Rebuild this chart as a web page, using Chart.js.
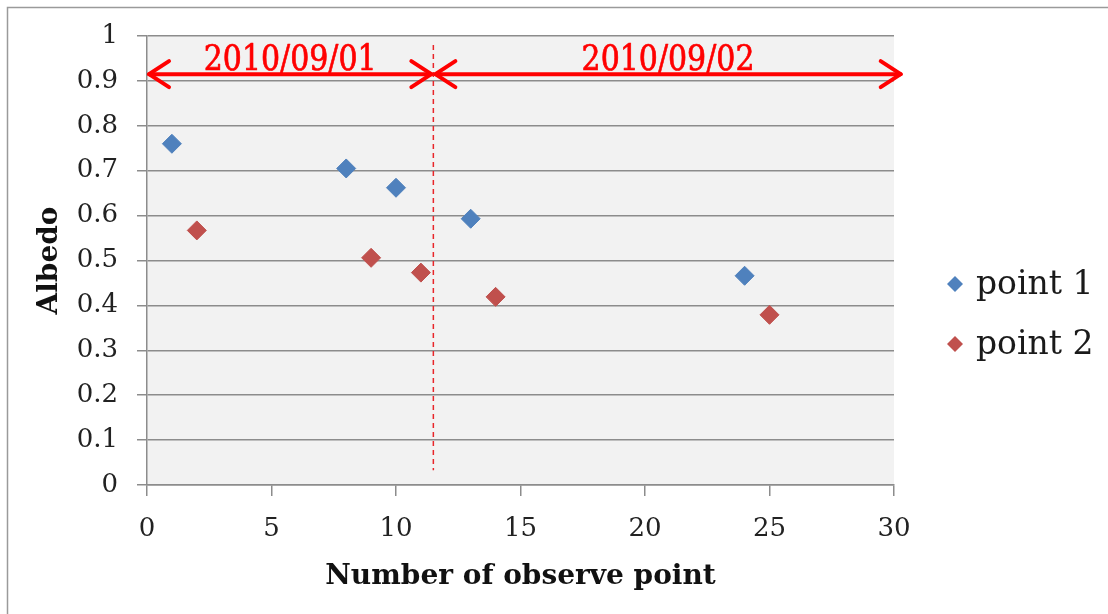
<!DOCTYPE html>
<html>
<head>
<meta charset="utf-8">
<title>Albedo</title>
<script src="https://cdn.jsdelivr.net/npm/chart.js@4/dist/chart.umd.min.js"></script>
<style>
  body { margin: 0; background: #fff; }
  canvas { display: block; }
</style>
</head>
<body>
<canvas id="albedoChart" width="1108" height="614"></canvas>
<script>
// observation numbers and albedo values for each point
const point1X = [1, 8, 10, 13, 24];
const point1Y = [0.76, 0.705, 0.662, 0.593, 0.466];
const point2X = [2, 9, 11, 14, 25];
const point2Y = [0.567, 0.506, 0.473, 0.419, 0.379];
const seriesNames = ['point 1', 'point 2'];

// day split and the date spans above the points
const dayDivider = 11.5;
const daySpans = [
    { label: '2010/09/01', from: 0, to: 11.5 },
    { label: '2010/09/02', from: 11.5, to: 30.35 }
];
const spanArrowY = 0.915;

const serif = '"DejaVu Serif", "Liberation Serif", serif';
const gridGray = '#8c8c8c';

function toPoints(xs, ys) {
    return xs.map((x, i) => ({ x: x, y: ys[i] }));
}

// plot background + outer frame
const backgroundPlugin = {
    id: 'plotBackground',
    beforeDraw(chart) {
        const ctx = chart.ctx;
        const a = chart.chartArea;
        ctx.save();
        ctx.fillStyle = '#f2f2f2';
        ctx.fillRect(a.left, a.top, a.right - a.left, a.bottom - a.top);
        ctx.strokeStyle = '#9a9a9a';
        ctx.lineWidth = 1.5;
        ctx.beginPath();
        ctx.moveTo(7.5, chart.height);
        ctx.lineTo(7.5, 7.5);
        ctx.lineTo(chart.width, 7.5);
        ctx.stroke();
        ctx.restore();
    }
};

function drawArrowHead(ctx, x, y, dir) {
    ctx.beginPath();
    ctx.moveTo(x - dir * 20, y - 13);
    ctx.lineTo(x, y);
    ctx.lineTo(x - dir * 20, y + 13);
    ctx.stroke();
}

// dashed divider, date arrows and their labels
const dayMarkPlugin = {
    id: 'dayMarks',
    afterDatasetsDraw(chart) {
        const ctx = chart.ctx;
        const xs = chart.scales.x;
        const ys = chart.scales.y;
        ctx.save();

        ctx.strokeStyle = '#e8262a';
        ctx.lineWidth = 1.5;
        ctx.setLineDash([5, 4]);
        ctx.beginPath();
        ctx.moveTo(xs.getPixelForValue(dayDivider), ys.getPixelForValue(0.98));
        ctx.lineTo(xs.getPixelForValue(dayDivider), ys.getPixelForValue(0.033));
        ctx.stroke();
        ctx.setLineDash([]);

        const y = ys.getPixelForValue(spanArrowY);
        ctx.strokeStyle = '#ff0000';
        ctx.lineWidth = 4;
        ctx.lineCap = 'round';
        ctx.lineJoin = 'round';
        daySpans.forEach(span => {
            const x0 = xs.getPixelForValue(span.from) + 2;
            const x1 = xs.getPixelForValue(span.to) - 2;
            ctx.beginPath();
            ctx.moveTo(x0, y);
            ctx.lineTo(x1, y);
            ctx.stroke();
            drawArrowHead(ctx, x0, y, -1);
            drawArrowHead(ctx, x1, y, 1);

            // label a bit taller than the plain face
            ctx.save();
            ctx.translate((x0 + x1) / 2, y - 4);
            ctx.scale(1, 1.15);
            ctx.fillStyle = '#ff0000';
            ctx.strokeStyle = '#ff0000';
            ctx.lineWidth = 0.6;
            ctx.font = '30px ' + serif;
            ctx.textAlign = 'center';
            ctx.textBaseline = 'alphabetic';
            ctx.fillText(span.label, 0, 0);
            ctx.strokeText(span.label, 0, 0);
            ctx.restore();
        });
        ctx.restore();
    }
};

// legend on the right, diamonds + names
const sideLegendPlugin = {
    id: 'sideLegend',
    afterDraw(chart) {
        const ctx = chart.ctx;
        ctx.save();
        chart.data.datasets.forEach((ds, i) => {
            const cy = 284 + i * 60;
            ctx.fillStyle = ds.backgroundColor;
            ctx.beginPath();
            ctx.moveTo(955, cy - 8);
            ctx.lineTo(963, cy);
            ctx.lineTo(955, cy + 8);
            ctx.lineTo(947, cy);
            ctx.closePath();
            ctx.fill();
            ctx.fillStyle = '#1a1a1a';
            ctx.font = '33px ' + serif;
            ctx.textAlign = 'left';
            ctx.textBaseline = 'middle';
            ctx.fillText(ds.label, 976, cy + 1);
        });
        ctx.restore();
    }
};

const tickText = v => String(Number(v.toFixed(1)));

new Chart(document.getElementById('albedoChart'), {
    type: 'scatter',
    data: {
        datasets: [
            {
                label: seriesNames[0],
                data: toPoints(point1X, point1Y),
                backgroundColor: '#4f81bd',
                borderColor: '#4f81bd',
                borderWidth: 1,
                pointStyle: 'rectRot',
                pointRadius: 9.5
            },
            {
                label: seriesNames[1],
                data: toPoints(point2X, point2Y),
                backgroundColor: '#c0504d',
                borderColor: '#c0504d',
                borderWidth: 1,
                pointStyle: 'rectRot',
                pointRadius: 9.5
            }
        ]
    },
    options: {
        responsive: false,
        animation: false,
        layout: { padding: { left: 0, top: 36, right: 214, bottom: 0 } },
        plugins: {
            legend: { display: false },
            tooltip: { enabled: false }
        },
        scales: {
            x: {
                type: 'linear',
                min: 0,
                max: 30,
                afterFit: scale => { scale.height = 129; },
                ticks: {
                    stepSize: 5,
                    padding: 18,
                    color: '#222',
                    font: { family: serif, size: 26 },
                    callback: tickText
                },
                grid: {
                    drawOnChartArea: false,
                    color: gridGray,
                    lineWidth: 1.5,
                    tickLength: 11
                },
                border: { color: gridGray, width: 1.5 },
                title: {
                    display: true,
                    text: 'Number of observe point',
                    color: '#111',
                    font: { family: serif, size: 28, weight: 'bold' },
                    padding: { top: 0, bottom: 20 }
                }
            },
            y: {
                min: 0,
                max: 1,
                afterFit: scale => { scale.width = 147; },
                ticks: {
                    stepSize: 0.1,
                    padding: 19,
                    color: '#222',
                    font: { family: serif, size: 26 },
                    callback: tickText
                },
                grid: {
                    color: gridGray,
                    lineWidth: 1.5,
                    tickLength: 10
                },
                border: { color: gridGray, width: 1.5 },
                title: {
                    display: true,
                    text: 'Albedo',
                    color: '#111',
                    font: { family: serif, size: 28, weight: 'bold' },
                    padding: { top: 33, bottom: 0 }
                }
            }
        }
    },
    plugins: [backgroundPlugin, dayMarkPlugin, sideLegendPlugin]
});
</script>
</body>
</html>
